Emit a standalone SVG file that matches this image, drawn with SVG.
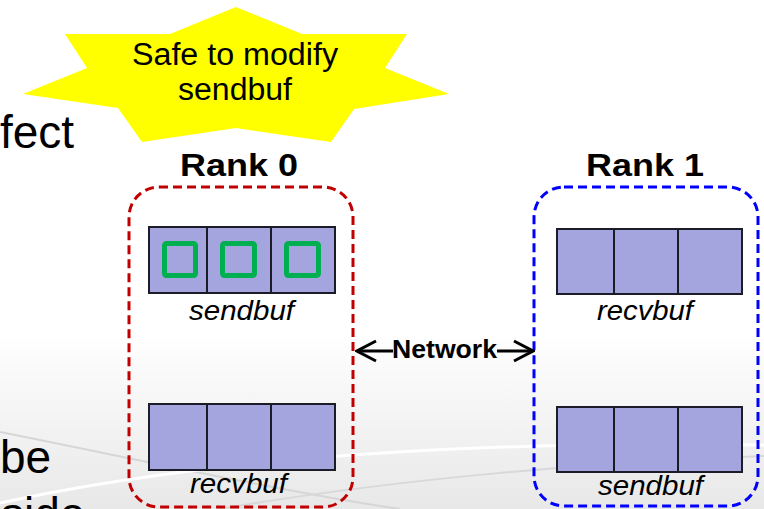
<svg xmlns="http://www.w3.org/2000/svg" width="764" height="509" viewBox="0 0 764 509">
<style>
.body{font-family:"Liberation Sans",Arial,sans-serif;font-size:46px;fill:#000}
.star-t{font-family:"Liberation Sans",Arial,sans-serif;font-size:31px;fill:#000}
.rank{font-family:"Liberation Sans",Arial,sans-serif;font-size:31px;font-weight:bold;fill:#000}
.lbl{font-family:"Liberation Sans",Arial,sans-serif;font-size:28px;font-style:italic;fill:#000}
.net{font-family:"Liberation Sans",Arial,sans-serif;font-size:25px;font-weight:bold;fill:#000}
.cell{fill:#a4a4de;stroke:#1c1c28;stroke-width:2}
.mark{fill:none;stroke:#00b050;stroke-width:5}
.r0{fill:none;stroke:#c00000;stroke-width:3;stroke-dasharray:9 5}
.r1{fill:none;stroke:#0000ff;stroke-width:3;stroke-dasharray:9 5}
.arrow{fill:none;stroke:#000;stroke-width:3}
</style>
<defs>
<linearGradient id="bg" x1="0" y1="0" x2="0" y2="509" gradientUnits="userSpaceOnUse">
<stop offset="0.65" stop-color="#ffffff"/>
<stop offset="1" stop-color="#e8e8e8"/>
</linearGradient>
<marker id="chev" viewBox="0 0 24 24" refX="22" refY="12" markerWidth="24" markerHeight="24" markerUnits="userSpaceOnUse" orient="auto-start-reverse">
<path d="M3,2 L22,12 L3,22" fill="none" stroke="#000" stroke-width="3"/>
</marker>
</defs>
<rect x="0" y="0" width="764" height="509" fill="url(#bg)"/>
<path d="M0,432 C150,462 300,495 400,509" fill="none" stroke="#d6d6d6" stroke-width="2"/>
<path d="M0,503 C200,460 450,440 764,445" fill="none" stroke="#ffffff" stroke-width="3"/>
<path d="M220,509 C400,478 600,462 764,456" fill="none" stroke="#d8d8d8" stroke-width="2"/>

<text class="body" x="0" y="148">fect</text>
<text class="body" x="0" y="473">be</text>
<text class="body" x="1" y="530">side</text>

<g id="star">
<polygon points="236,7 302,34 407,34 385,68 449,94 354,109 331,142 236,128 142,142 118,108 23,94 87,68 65,34 170,34" fill="#ffff00"/>
<text class="star-t" x="132" y="65" textLength="206" lengthAdjust="spacingAndGlyphs">Safe to modify</text>
<text class="star-t" x="178" y="100" textLength="114" lengthAdjust="spacingAndGlyphs">sendbuf</text>
</g>

<g id="rank0">
<text class="rank" x="180" y="176" textLength="118" lengthAdjust="spacingAndGlyphs">Rank 0</text>
<rect class="r0" x="129" y="187" width="224" height="320" rx="30"/>
<g id="rank0-sendbuf">
<rect class="cell" x="149" y="227" width="58" height="66"/>
<rect class="cell" x="207" y="227" width="64" height="66"/>
<rect class="cell" x="271" y="227" width="64" height="66"/>
<rect class="mark" x="164.5" y="243.5" width="31" height="32" rx="2"/>
<rect class="mark" x="222.5" y="243.5" width="32" height="32" rx="2"/>
<rect class="mark" x="286.5" y="243.5" width="32" height="32" rx="2"/>
<text class="lbl" x="189" y="320" textLength="105" lengthAdjust="spacingAndGlyphs">sendbuf</text>
</g>
<g id="rank0-recvbuf">
<rect class="cell" x="149" y="404" width="58" height="66"/>
<rect class="cell" x="207" y="404" width="64" height="66"/>
<rect class="cell" x="271" y="404" width="64" height="66"/>
<text class="lbl" x="190" y="493" textLength="97" lengthAdjust="spacingAndGlyphs">recvbuf</text>
</g>
</g>

<g id="rank1">
<text class="rank" x="586" y="176" textLength="118" lengthAdjust="spacingAndGlyphs">Rank 1</text>
<rect class="r1" x="534" y="187" width="224" height="319" rx="30"/>
<g id="rank1-recvbuf">
<rect class="cell" x="557" y="229" width="57" height="65"/>
<rect class="cell" x="614" y="229" width="64" height="65"/>
<rect class="cell" x="678" y="229" width="64" height="65"/>
<text class="lbl" x="597" y="320" textLength="96" lengthAdjust="spacingAndGlyphs">recvbuf</text>
</g>
<g id="rank1-sendbuf">
<rect class="cell" x="557" y="407" width="57" height="65"/>
<rect class="cell" x="614" y="407" width="64" height="65"/>
<rect class="cell" x="678" y="407" width="64" height="65"/>
<text class="lbl" x="598" y="495" textLength="105" lengthAdjust="spacingAndGlyphs">sendbuf</text>
</g>
</g>

<g id="connectors">
<path class="arrow" d="M393,351 L357,351" marker-end="url(#chev)"/>
<path class="arrow" d="M497,351 L533,351" marker-end="url(#chev)"/>
<text class="net" x="392" y="358" textLength="105" lengthAdjust="spacingAndGlyphs">Network</text>
</g>
</svg>
